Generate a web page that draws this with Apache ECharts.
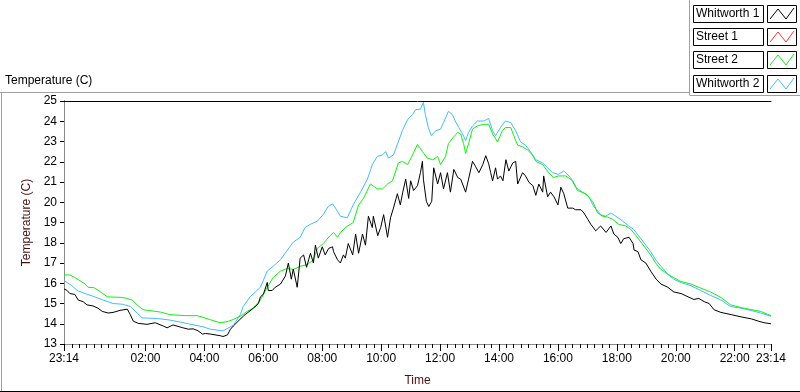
<!DOCTYPE html>
<html>
<head>
<meta charset="utf-8">
<title>Temperature (C)</title>
<script src="https://cdn.jsdelivr.net/npm/echarts@6/dist/echarts.min.js"></script>
<style>
    html, body { margin: 0; padding: 0; background: #fff; }
    #main { width: 800px; height: 392px; }
</style>
</head>
<body>
<div id="main"></div>
<script>
// minutes after 23:14 , temperature (C)
var whitworth1 = [[0,15.72],[6,15.65],[12,15.49],[22,15.45],[29,15.17],[39,15.09],[47,14.93],[59,14.88],[69,14.77],[78,14.61],
    [90,14.53],[100,14.56],[114,14.66],[129,14.72],[135,14.45],[141,14.13],[151,14.02],[169,13.97],[186,14.05],[202,13.89],
    [210,13.80],[222,13.94],[241,13.81],[253,13.73],[263,13.75],[273,13.65],[282,13.49],[288,13.52],[298,13.49],[318,13.41],
    [324,13.37],[333,13.45],[339,13.73],[345,13.89],[355,14.13],[365,14.37],[373,14.53],[386,14.77],[396,15.0],[400,15.33],
    [406,15.45],[414,16.04],[416,15.64],[424,15.64],[430,15.80],[441,15.96],[451,16.36],[457,17.0],[463,16.2],[467,16.7],
    [475,15.8],[481,17.24],[488,17.4],[494,16.79],[502,17.48],[508,17.0],[512,17.88],[518,17.24],[526,17.8],[532,17.4],
    [539,17.72],[547,17.8],[549,17.56],[557,17.16],[563,17.0],[569,17.4],[573,17.24],[579,17.96],[588,17.4],[594,18.43],
    [600,17.48],[608,18.43],[614,17.88],[620,19.31],[628,18.75],[630,19.31],[639,18.35],[645,18.75],[651,19.39],[659,18.27],
    [665,19.23],[671,19.71],[679,20.42],[685,19.87],[690,20.5],[696,21.14],[702,20.19],[706,21.06],[712,20.58],[720,20.82],
    [726,21.46],[730,22.02],[732,21.14],[738,20.05],[743,19.79],[749,20.05],[753,21.7],[761,20.9],[767,21.46],[773,20.66],
    [781,21.46],[787,20.5],[794,21.62],[802,21.22],[808,21.14],[818,20.5],[824,21.14],[832,22.02],[838,21.78],[845,21.46],
    [853,21.86],[859,22.3],[865,21.9],[869,21.46],[873,21.06],[879,21.7],[883,21.14],[889,21.3],[894,21.06],[900,22.1],
    [906,21.54],[914,21.94],[920,22.02],[924,20.9],[926,20.82],[934,21.46],[940,21.3],[947,20.98],[955,20.82],[961,20.34],
    [967,20.9],[975,20.5],[977,21.3],[985,20.27],[991,20.5],[998,20.27],[1006,19.87],[1012,20.74],[1018,20.42],[1026,19.71],
    [1036,19.71],[1042,19.63],[1053,19.63],[1059,19.47],[1067,19.15],[1073,18.91],[1083,18.59],[1093,18.83],[1104,18.51],[1114,18.83],
    [1120,18.43],[1128,18.27],[1134,17.96],[1140,18.2],[1151,18.27],[1159,17.96],[1161,17.64],[1169,17.56],[1175,17.16],[1185,17.0],
    [1195,16.6],[1206,16.2],[1216,15.96],[1230,15.8],[1242,15.57],[1257,15.49],[1271,15.33],[1283,15.2],[1293,15.25],[1304,15.09],
    [1314,15.0],[1324,14.69],[1338,14.56],[1359,14.45],[1379,14.34],[1400,14.24],[1414,14.13],[1426,14.05],[1440,14.0]];

var street1 = []; // no trace visible on the graph

var street2 = [[0,16.41],[12,16.41],[22,16.28],[33,16.12],[43,15.96],[49,15.8],[61,15.78],[73,15.6],[88,15.33],[118,15.3],
    [128,15.25],[139,15.17],[149,14.93],[161,14.69],[196,14.58],[216,14.45],[247,14.4],[271,14.4],[283,14.32],[298,14.2],
    [318,14.05],[332,14.1],[345,14.21],[359,14.37],[373,14.61],[385,14.77],[400,15.17],[414,15.8],[426,16.28],[441,16.6],
    [455,16.73],[467,16.68],[481,16.84],[496,16.92],[508,17.16],[516,17.72],[528,17.96],[542,18.35],[549,18.51],[557,18.27],
    [563,18.5],[573,18.75],[589,19.0],[600,19.87],[610,20.19],[624,20.9],[638,20.66],[649,20.66],[659,20.9],[669,21.06],
    [681,21.94],[689,22.02],[700,21.86],[710,22.34],[720,22.86],[730,22.5],[740,22.18],[751,22.1],[761,22.26],[767,21.86],
    [777,22.26],[783,22.89],[793,23.21],[802,23.45],[808,23.37],[814,22.89],[818,22.41],[824,22.89],[832,23.61],[842,23.77],
    [855,23.85],[865,23.85],[873,23.37],[883,22.98],[893,23.53],[899,23.69],[910,23.69],[916,23.29],[924,22.82],[934,22.74],
    [944,22.58],[954,22.34],[961,22.02],[975,21.86],[987,21.46],[997,21.22],[1007,21.3],[1022,21.3],[1036,21.06],[1046,20.58],
    [1063,20.42],[1077,20.03],[1087,19.47],[1097,19.31],[1107,19.27],[1118,19.15],[1130,18.91],[1144,18.83],[1154,18.67],[1165,18.35],
    [1175,18.03],[1185,17.72],[1195,17.4],[1205,17.0],[1216,16.68],[1230,16.44],[1242,16.28],[1256,16.09],[1277,15.96],[1297,15.76],
    [1317,15.57],[1338,15.3],[1358,14.93],[1379,14.8],[1399,14.7],[1419,14.61],[1440,14.4]];

var whitworth2 = [[0,16.12],[6,16.04],[16,15.88],[27,15.64],[43,15.49],[59,15.36],[80,15.17],[100,15.0],[120,14.96],[135,14.85],
    [149,14.53],[159,14.29],[190,14.26],[216,14.18],[237,14.08],[283,13.85],[298,13.73],[324,13.65],[345,13.93],[359,14.45],
    [365,14.85],[379,15.33],[400,15.8],[414,16.6],[426,16.84],[441,17.16],[455,17.64],[467,18.03],[481,18.27],[491,18.75],
    [502,18.91],[516,19.07],[528,19.39],[538,19.79],[547,19.92],[553,19.71],[563,19.31],[577,19.23],[589,19.87],[604,20.5],
    [618,21.14],[628,21.86],[638,22.26],[649,22.34],[655,22.5],[661,22.18],[671,22.34],[681,22.98],[689,23.53],[700,24.09],
    [710,24.33],[716,24.57],[726,24.6],[732,24.93],[736,24.33],[742,23.69],[748,23.29],[757,23.53],[767,23.61],[773,23.93],
    [783,24.49],[791,24.33],[797,24.01],[804,23.69],[812,23.37],[818,23.05],[824,23.45],[832,23.77],[842,24.01],[855,24.01],
    [865,24.14],[873,23.53],[879,23.29],[889,23.69],[899,24.01],[910,23.93],[920,23.53],[930,22.98],[940,22.82],[950,22.5],
    [961,22.1],[975,21.94],[985,21.7],[995,21.46],[1007,21.38],[1018,21.54],[1032,21.22],[1042,20.74],[1056,20.5],[1069,20.27],
    [1079,19.79],[1093,19.39],[1103,19.31],[1114,19.47],[1124,19.31],[1138,19.07],[1150,18.83],[1160,18.67],[1175,18.2],[1185,17.88],
    [1195,17.56],[1205,17.16],[1216,16.84],[1230,16.44],[1242,16.2],[1256,16.04],[1277,15.88],[1297,15.64],[1317,15.4],[1338,15.17],
    [1358,14.85],[1379,14.77],[1399,14.66],[1419,14.53],[1440,14.37]];

var seriesNames = ['Whitworth 1', 'Street 1', 'Street 2', 'Whitworth 2'];
var seriesData = [whitworth1, street1, street2, whitworth2];
var seriesColors = ['#000000', '#ff3030', '#11f011', '#44bbff'];

// x tick labels (minutes after 23:14)
var tickMinutes = [0, 166, 286, 406, 526, 646, 766, 886, 1006, 1126, 1246, 1366, 1440];
var tickLabels = ['23:14', '02:00', '04:00', '06:00', '08:00', '10:00', '12:00', '14:00', '16:00', '18:00', '20:00', '22:00', '23:14'];

var FONT = 'Liberation Sans';

//quarter hour minor ticks
var minorTicks = [];
for (var q = 16; q < 1440; q += 15) {
    minorTicks.push(q);
}

function $each(arr, fn) {
    for (var i = 0; i < arr.length; i++) fn(i, arr[i]);
}

/*legend boxes drawn at top right*/
function legendGraphic() {
    var items = [];
    var tops = [5, 28, 51, 75];
    $each(seriesNames, function (i, name) {
        var t = tops[i];
        items.push({
            type: 'rect', shape: { x: 693.5, y: t + 0.5, width: 70, height: 17 },
            style: { fill: '#fff', stroke: '#000', lineWidth: 1 }
        });
        items.push({
            type: 'text', x: 696, y: t + 9,
            style: { text: name, fill: '#000', font: '12px ' + FONT, textVerticalAlign: 'middle' }
        });
        items.push({
            type: 'rect', shape: { x: 767.5, y: t + 0.5, width: 29, height: 17 },
            style: { fill: '#fff', stroke: '#000', lineWidth: 1 }
        });
        items.push({
            type: 'polyline', shape: { points: [[770, t + 14], [778, t + 4], [786, t + 14], [794, t + 3]] },
            style: { fill: null, stroke: seriesColors[i], lineWidth: 1 }
        });
    });
    return items;
}

var frame = [
    { type: 'line', shape: { x1: 0, y1: 92.5, x2: 690, y2: 92.5 }, style: { stroke: '#a0a0a0', lineWidth: 1 } },
    { type: 'line', shape: { x1: 689.5, y1: 0, x2: 689.5, y2: 95.5 }, style: { stroke: '#a0a0a0', lineWidth: 1 } },
    { type: 'line', shape: { x1: 690, y1: 95.5, x2: 800, y2: 95.5 }, style: { stroke: '#a0a0a0', lineWidth: 1 } },
    { type: 'line', shape: { x1: 1.5, y1: 92, x2: 1.5, y2: 392 }, style: { stroke: '#a0a0a0', lineWidth: 1 } },
    { type: 'line', shape: { x1: 0, y1: 391.5, x2: 800, y2: 391.5 }, style: { stroke: '#000', lineWidth: 1 } },
    {
        type: 'text', x: 5, y: 81,
        style: { text: 'Temperature (C)', fill: '#000', font: '12px ' + FONT, textVerticalAlign: 'middle' }
    }
];

var series = [];
//draw order : blue, green, red, black on top
$each([3, 2, 1, 0], function (k, i) {
    series.push({
        name: seriesNames[i],
        type: 'line',
        data: seriesData[i],
        showSymbol: false,
        symbol: 'none',
        lineStyle: { color: seriesColors[i], width: 1 },
        itemStyle: { color: seriesColors[i] },
        xAxisIndex: 0,
        yAxisIndex: 0,
        z: 2 + k
    });
});

var myChart = echarts.init(document.getElementById('main'));
var option = {
    animation: false,
    backgroundColor: '#fff',
    grid: { left: 64, right: 29, top: 101, bottom: 40, containLabel: false },
    xAxis: [{
        type: 'value', min: 0, max: 1440, position: 'bottom',
        name: 'Time', nameLocation: 'middle', nameGap: 31,
        nameTextStyle: { color: '#4a1010', fontSize: 12, fontFamily: FONT },
        axisLine: { lineStyle: { color: '#8a8a8a', width: 1 } },
        axisTick: { customValues: tickMinutes, length: 7, lineStyle: { color: '#000' } },
        axisLabel: {
            customValues: tickMinutes, margin: 9, color: '#000', fontSize: 12, fontFamily: FONT,
            formatter: function (v) {
                var idx = tickMinutes.indexOf(Math.round(v));
                return idx >= 0 ? tickLabels[idx] : '';
            }
        },
        splitLine: { show: false }
    }, {
        type: 'value', min: 0, max: 1440, position: 'bottom',
        axisLine: { show: false },
        axisTick: { customValues: minorTicks, length: 4, lineStyle: { color: '#000' } },
        axisLabel: { show: false },
        splitLine: { show: false }
    }, {
        type: 'value', min: 0, max: 1440, position: 'top',
        axisLine: { lineStyle: { color: '#000', width: 1 } },
        axisTick: { show: false },
        axisLabel: { show: false },
        splitLine: { show: false }
    }],
    yAxis: [{
        type: 'value', min: 13, max: 25, interval: 1,
        name: 'Temperature (C)', nameLocation: 'middle', nameGap: 19, nameRotate: 90,
        nameTextStyle: { color: '#4a1010', fontSize: 12, fontFamily: FONT },
        axisLine: { lineStyle: { color: '#000', width: 1 } },
        axisTick: { length: 4, lineStyle: { color: '#000' } },
        axisLabel: { margin: 7, color: '#000', fontSize: 12, fontFamily: FONT },
        splitLine: { show: false }
    }, {
        type: 'value', min: 13, max: 25, position: 'right',
        axisLine: { lineStyle: { color: '#8a8a8a', width: 1 } },
        axisTick: { show: false },
        axisLabel: { show: false },
        splitLine: { show: false }
    }],
    graphic: frame.concat(legendGraphic()),
    series: series
};
myChart.setOption(option);
</script>
</body>
</html>
